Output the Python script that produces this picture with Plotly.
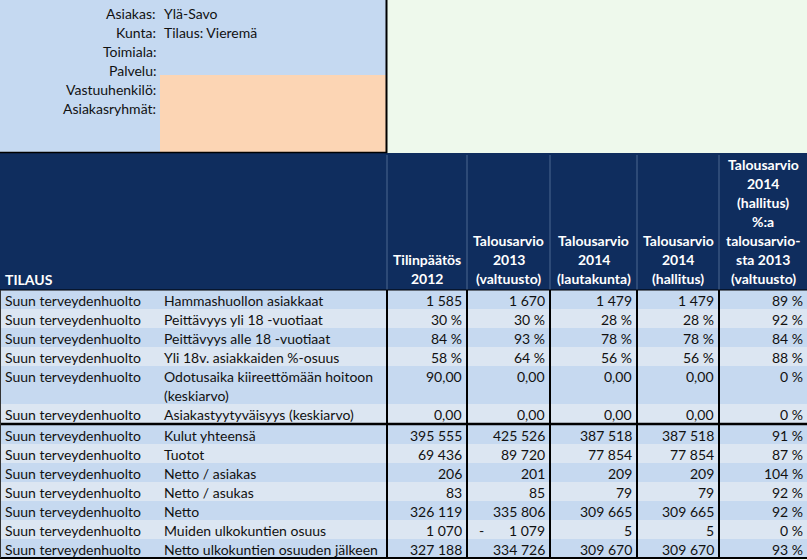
import textwrap
import plotly.graph_objects as go

# ---------------- data ----------------
info_labels = ["Asiakas:", "Kunta:", "Toimiala:", "Palvelu:", "Vastuuhenkilö:", "Asiakasryhmät:"]
info_values = ["Ylä-Savo", "Tilaus: Vieremä", "", "", "", ""]

first_header = "TILAUS"
column_headers = [
    "Tilinpäätös\n2012",
    "Talousarvio\n2013\n(valtuusto)",
    "Talousarvio\n2014\n(lautakunta)",
    "Talousarvio\n2014\n(hallitus)",
    "Talousarvio\n2014\n(hallitus)\n%:a\ntalousarvio-\nsta 2013\n(valtuusto)",
]

groups = ["Suun terveydenhuolto"] * 13
items = [
    "Hammashuollon asiakkaat",
    "Peittävyys yli 18 -vuotiaat",
    "Peittävyys alle 18 -vuotiaat",
    "Yli 18v. asiakkaiden %-osuus",
    "Odotusaika kiireettömään hoitoon (keskiarvo)",
    "Asiakastyytyväisyys (keskiarvo)",
    "Kulut yhteensä",
    "Tuotot",
    "Netto / asiakas",
    "Netto / asukas",
    "Netto",
    "Muiden ulkokuntien osuus",
    "Netto ulkokuntien osuuden jälkeen",
]
row_formats = ["int", "pct", "pct", "pct", "dec", "dec",
               "int", "int", "int", "int", "int", "int", "int"]

tilinpaatos_2012 = [1585, 0.30, 0.84, 0.58, 90.00, 0.00, 395555, 69436, 206, 83, 326119, 1070, 327188]
ta_2013_valtuusto = [1670, 0.30, 0.93, 0.64, 0.00, 0.00, 425526, 89720, 201, 85, 335806, -1079, 334726]
ta_2014_lautakunta = [1479, 0.28, 0.78, 0.56, 0.00, 0.00, 387518, 77854, 209, 79, 309665, 5, 309670]
ta_2014_hallitus = [1479, 0.28, 0.78, 0.56, 0.00, 0.00, 387518, 77854, 209, 79, 309665, 5, 309670]
ta_2014_pct_2013 = [0.89, 0.92, 0.84, 0.88, 0.00, 0.00, 0.91, 0.87, 1.04, 0.92, 0.92, 0.00, 0.93]

value_columns = [tilinpaatos_2012, ta_2013_valtuusto, ta_2014_lautakunta, ta_2014_hallitus]

# ---------------- layout / style ----------------
W, H = 807, 560
col_edges = [0, 160, 387, 467, 550, 637, 719, 807]
top_bottom = 153
orange_top = 75
header_bottom = 290
line_h = 19
section_break_after = 5      # thick rule after this row index
section_gap = 2
wrap_chars = 33

FONT = "Lato"
FS = 14
TXT = "#111111"
NAVY = "#0F2D5E"
BLUE_TOP = "#C5D9F1"
ORANGE = "#FCD5B4"
MINT = "#EEF9EC"
ROW_DARK = "#C6D9F0"
ROW_LIGHT = "#DCE6F2"


def fmt(v, kind):
    if kind == "pct":
        return f"{round(abs(v) * 100):.0f} %"
    if kind == "dec":
        return f"{abs(v):.2f}".replace(".", ",")
    return f"{abs(v):,.0f}".replace(",", " ")


shapes = []
ann = []


def rect(x0, y0, x1, y1, color):
    shapes.append(dict(type="rect", xref="x", yref="y", x0=x0, y0=y0, x1=x1, y1=y1,
                       fillcolor=color, line=dict(width=0), layer="below"))


def line(x0, y0, x1, y1, color="#000000", w=2):
    shapes.append(dict(type="line", xref="x", yref="y", x0=x0, y0=y0, x1=x1, y1=y1,
                       line=dict(color=color, width=w), layer="above"))


def text(x, y, s, anchor="left", bold=False, color=TXT, size=FS):
    ann.append(dict(x=x, y=y, xref="x", yref="y", text=f"<b>{s}</b>" if bold else s,
                    showarrow=False, xanchor=anchor, yanchor="middle",
                    font=dict(family=FONT, size=size, color=color)))


# top info block
info_x = col_edges[1]
info_right = col_edges[2]
rect(0, 0, info_right, top_bottom, BLUE_TOP)
rect(info_x, orange_top, info_right, top_bottom, ORANGE)
rect(info_right, 0, W, top_bottom, MINT)
for i, (lab, val) in enumerate(zip(info_labels, info_values)):
    y = 13 + i * line_h
    text(info_x - 2, y, lab, "right")
    if val:
        text(info_x + 2, y, val, "left")
line(info_right - 0.5, 0, info_right - 0.5, top_bottom, w=2)

# header
rect(0, top_bottom, W, header_bottom, NAVY)
line(0, top_bottom - 0.5, info_right, top_bottom - 0.5, "#000000", 1.5)
for xe in col_edges[2:-1]:
    line(xe, top_bottom + 2, xe, header_bottom, "#4C6890", 1)
text(3, header_bottom - 11, first_header, "left", bold=True, color="white")
for j, h in enumerate(column_headers):
    xc = (col_edges[2 + j] + col_edges[3 + j]) / 2
    lines = h.split("\n")
    for k, ln in enumerate(lines):
        y = header_bottom - 12 - (len(lines) - 1 - k) * line_h
        text(xc, y, ln, "center", bold=True, color="white")

# data rows
y = header_bottom
for i in range(len(items)):
    wrapped = textwrap.wrap(items[i], wrap_chars)
    h = line_h * len(wrapped)
    rect(0, y, W, y + h, ROW_DARK if i % 2 == 0 else ROW_LIGHT)
    ty = y + 10
    text(3, ty, groups[i], "left")
    for k, ln in enumerate(wrapped):
        text(info_x + 2, ty + k * line_h, ln, "left")
    for j, col in enumerate(value_columns):
        v = col[i]
        right = col_edges[3 + j]
        text(right - 3, ty, fmt(v, row_formats[i]), "right")
        if v < 0:
            text(col_edges[2 + j] + 10, ty, "-", "left")
    text(W - 2, ty, fmt(ta_2014_pct_2013[i], "pct"), "right")
    y += h
    if i == section_break_after:
        line(0, y + section_gap / 2, W, y + section_gap / 2, "#000000", 2.5)
        y += section_gap
data_bottom = y

line(0, header_bottom, W, header_bottom, "#000000", 1)
line(0, data_bottom, W, data_bottom, "#000000", 2)
line(0.5, header_bottom, 0.5, data_bottom, "#333333", 1)
for xe in col_edges[2:-1]:
    line(xe, header_bottom, xe, data_bottom, "#000000", 2)

fig = go.Figure()
fig.update_layout(
    width=W, height=H, margin=dict(l=0, r=0, t=0, b=0),
    paper_bgcolor="white", plot_bgcolor="white",
    xaxis=dict(range=[0, W], visible=False, fixedrange=True),
    yaxis=dict(range=[H, 0], visible=False, fixedrange=True),
    shapes=shapes, annotations=ann, showlegend=False,
)
fig.write_html(
    "out.html",
    config={"displayModeBar": False},
    post_script="document.body.style.margin='0';document.body.style.overflow='hidden';",
)
